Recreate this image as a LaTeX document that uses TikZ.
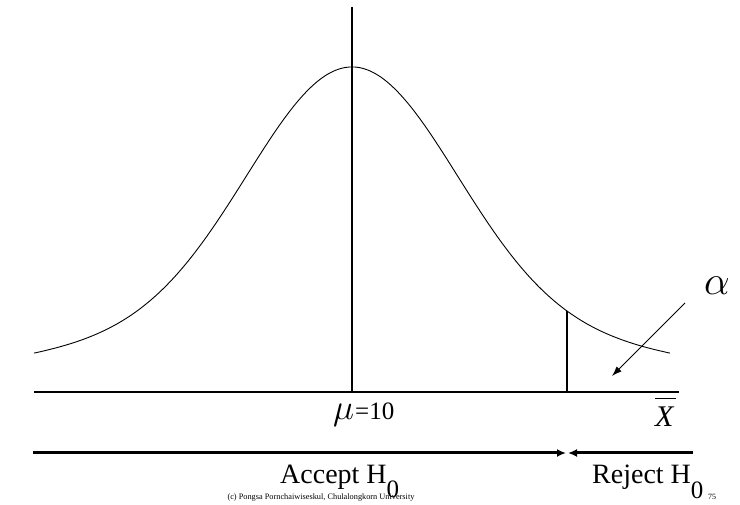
\documentclass[tikz,border=0pt]{standalone}
\usepackage{fontspec}
\setmainfont{Liberation Serif}
\usetikzlibrary{arrows.meta, positioning}

\begin{document}
\begin{tikzpicture}[
    x=1pt, y=-1pt,
    axisline/.style={line width=1.1pt},
    curveline/.style={line width=0.9pt},
    bigarrow/.style={-{Latex[length=9pt,width=8pt]}, line width=3pt},
    pointer/.style={-{Latex[length=10pt,width=7pt]}, line width=1pt},
    lbl/.style={inner sep=0pt, anchor=base west, font=\fontsize{28}{30}\selectfont}
]
\useasboundingbox (0,0) rectangle (740,505);
% axes and cut-off
\coordinate (top) at (352,7);
\coordinate (mid) at (352,392);
\coordinate (left) at (34,392);
\coordinate (right) at (679,392);
\coordinate (cut) at (567,392);
\coordinate (cutcurve) at (567,311);
\draw[axisline] (left) -- (right);
\draw[axisline] (top) -- (mid);
\draw[axisline] (cutcurve) -- (cut);
% bell curve (two gaussians, heavier tails)
\draw[curveline] plot[domain=-3.18:3.18, samples=120, smooth]
  ({352+100*\x}, {392-(255*exp(-\x*\x/2.1218)+70*exp(-\x*\x/15.68))});
% labels on the axis
\node[lbl] (mu) at (333,420) {\scalebox{1.43}{$\mu$}\kern1pt{\fontsize{25}{25}\selectfont =10}};
\node[lbl, font=\fontsize{30}{30}\selectfont\itshape] (xlab) at (655,427) {X};
\draw[line width=1.1pt] ([yshift=9pt]xlab.north west) -- ([yshift=9pt,xshift=2pt]xlab.north east);
% alpha pointer
\node[lbl] (alpha) at (704,295) {\scalebox{1.64}{$\alpha$}};
\coordinate (tail) at (685,303);
\coordinate (tip) at (612,376);
\draw[pointer] (tail) -- (tip);
% decision regions
\coordinate (split) at (567,453);
\coordinate (accstart) at (33,453);
\coordinate (rejstart) at (693,453);
\draw[bigarrow] (accstart) -- ([xshift=-1pt]split);
\draw[bigarrow] (rejstart) -- ([xshift=1pt]split);
\node[lbl] (accept) at (280,483) {Accept H\raisebox{-14pt}{\fontsize{25}{25}\selectfont 0}};
\node[lbl] (reject) at (592,483) {Reject H\raisebox{-15pt}{\fontsize{25}{25}\selectfont 0}};
% footer
\node[inner sep=0pt, anchor=base, font=\fontsize{8.3}{9}\selectfont] (credit) at (321,499) {(c) Pongsa Pornchaiwiseskul, Chulalongkorn University};
\node[inner sep=0pt, anchor=base west, font=\fontsize{8}{8}\selectfont] (page) at (708,500) {75};
\end{tikzpicture}
\end{document}
